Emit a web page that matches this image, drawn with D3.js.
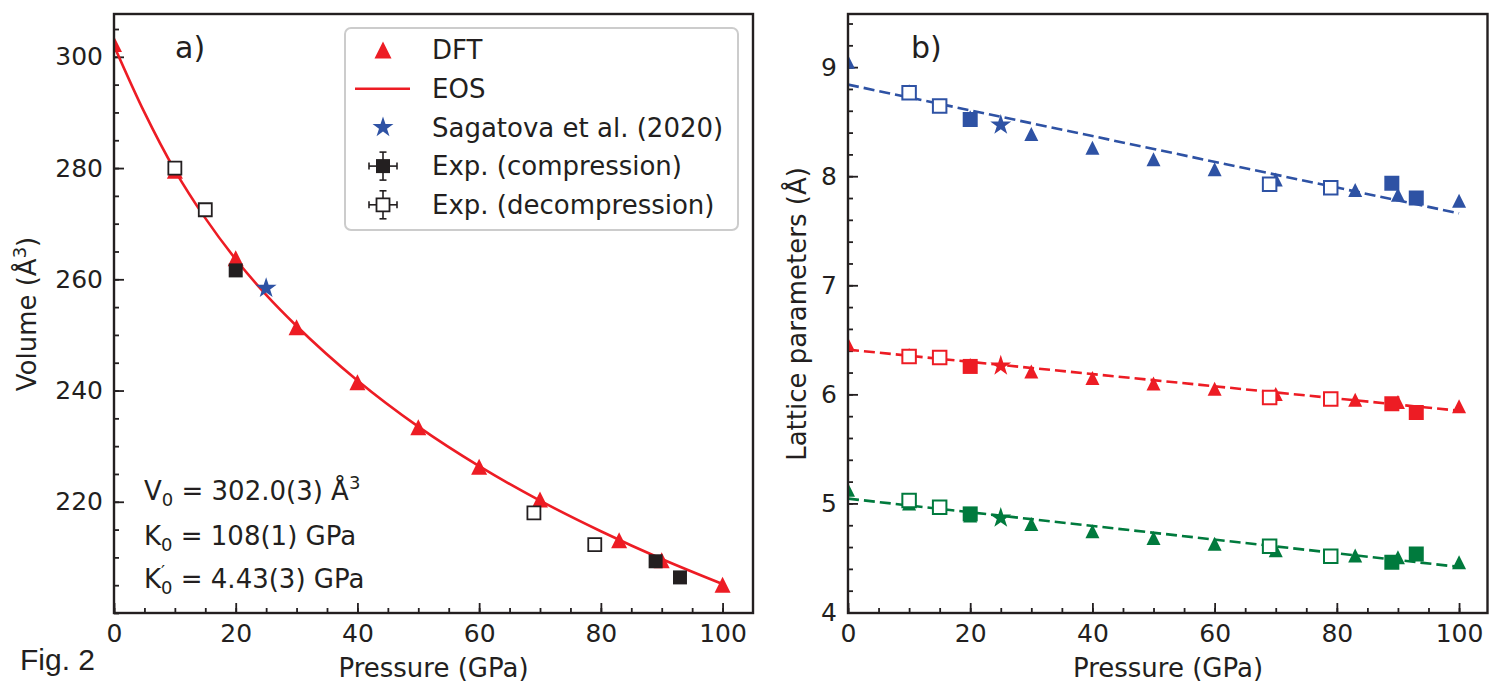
<!DOCTYPE html>
<html>
<head>
<meta charset="utf-8">
<script src="https://cdn.jsdelivr.net/npm/d3@7"></script>
<style>
  body { margin: 0; background: #fff; }
  text { font-family: "DejaVu Sans", sans-serif; fill: #231f20; white-space: pre; }
</style>
</head>
<body>
<script>
// ---------- data, panel a ----------
const pressDFT = [0, 10, 20, 30, 40, 50, 60, 70, 83, 90, 100];
const volDFT = [302.3, 279.5, 263.8, 251.4, 241.5, 233.4, 226.3, 220.4, 213.1, 209.5, 205.1];

const pressEOS = [0, 5, 10, 15, 20, 25, 30, 40, 50, 60, 70, 80, 90, 100];
const volEOS = [302.0, 290.0, 279.6, 271.0, 263.6, 257.2, 251.6, 241.8, 233.5, 226.4, 220.2, 214.7, 209.7, 205.2];

const pressComp = [20, 89, 93];
const volComp = [261.6, 209.3, 206.4];

const pressDecomp = [10, 15, 69, 79];
const volDecomp = [280.0, 272.5, 218.0, 212.3];

const pressStar = [25];
const volStar = [258.4];

// ---------- data, panel b ----------
const latA_DFT = [9.05, 8.78, 8.54, 8.386, 8.26, 8.155, 8.063, 7.97, 7.874, 7.83, 7.776];
const latB_DFT = [6.46, 6.36, 6.27, 6.21, 6.149, 6.10, 6.051, 6.003, 5.95, 5.93, 5.89];
const latC_DFT = [5.126, 5.00, 4.89, 4.812, 4.745, 4.684, 4.63, 4.57, 4.522, 4.506, 4.46];

const latA_Comp = [8.52, 7.935, 7.80];
const latB_Comp = [6.256, 5.914, 5.834];
const latC_Comp = [4.904, 4.46, 4.537];

const latA_Decomp = [8.765, 8.643, 7.926, 7.895];
const latB_Decomp = [6.347, 6.338, 5.972, 5.957];
const latC_Decomp = [5.026, 4.964, 4.607, 4.516];

const latA_Star = [8.47];
const latB_Star = [6.262];
const latC_Star = [4.867];

const pressFit = [0, 100];
const latA_Fit = [8.84, 7.66];
const latB_Fit = [6.41, 5.85];
const latC_Fit = [5.044, 4.418];

const xTicks = [0, 20, 40, 60, 80, 100];
const volTicks = [220, 240, 260, 280, 300];
const latTicks = [4, 5, 6, 7, 8, 9];

const legendLabels = ["DFT", "EOS", "Sagatova et al. (2020)", "Exp. (compression)", "Exp. (decompression)"];

// ---------- colours ----------
const RED = "#ed1c24", BLUE = "#2e52a4", GREEN = "#007a3d", INK = "#231f20";

const W = 1489, H = 684;
const svg = d3.select("body").append("svg").attr("width", W).attr("height", H);

// marker shapes
function triPath(s) { return `M0,${-s / 2}L${s / 2},${s / 2}L${-s / 2},${s / 2}Z`; }
function sqPath(s) { return `M${-s / 2},${-s / 2}H${s / 2}V${s / 2}H${-s / 2}Z`; }
function starPath(r) {
  const pts = [];
  for (let i = 0; i < 10; i++) {
    const rr = i % 2 === 0 ? r : r * 0.382;
    const a = -Math.PI / 2 + i * Math.PI / 5;
    pts.push([rr * Math.cos(a), rr * Math.sin(a)]);
  }
  return "M" + pts.map(p => p.join(",")).join("L") + "Z";
}

function zip(a, b) { return a.map((v, i) => [v, b[i]]); }

// ---------- panel builder ----------
function panel(id, x, y, yMajor, yMinorStep, left, right) {
  const g = svg.append("g");
  const top = 14, bottom = 613;

  g.append("clipPath").attr("id", "clip" + id)
    .append("rect").attr("x", left).attr("y", top).attr("width", right - left).attr("height", bottom - top);

  // minor ticks
  const yd = y.domain();
  const yMinor = d3.range(Math.ceil(yd[0] / yMinorStep) * yMinorStep, yd[1], yMinorStep);
  g.append("g").attr("transform", `translate(${left},0)`)
    .call(d3.axisLeft(y).tickValues(yMinor).tickSize(-5).tickFormat(""))
    .call(a => a.select(".domain").remove());
  g.append("g").attr("transform", `translate(0,${bottom})`)
    .call(d3.axisBottom(x).tickValues(d3.range(0, 105, 5)).tickSize(-5).tickFormat(""))
    .call(a => a.select(".domain").remove());

  // major ticks
  g.append("g").attr("transform", `translate(${left},0)`)
    .call(d3.axisLeft(y).tickValues(yMajor).tickSize(-10).tickPadding(11).tickFormat(d3.format("d")))
    .call(a => a.select(".domain").remove())
    .call(a => a.selectAll("text").style("font-size", "25px").style("font-family", "DejaVu Sans"));
  g.append("g").attr("transform", `translate(0,${bottom})`)
    .call(d3.axisBottom(x).tickValues(xTicks).tickSize(-10).tickPadding(11).tickFormat(d3.format("d")))
    .call(a => a.select(".domain").remove())
    .call(a => a.selectAll("text").style("font-size", "25px").style("font-family", "DejaVu Sans"));

  g.selectAll(".tick line").attr("stroke", INK).attr("stroke-width", 1.8);
  g.selectAll(".tick text").attr("fill", INK);

  const plot = g.append("g").attr("clip-path", `url(#clip${id})`);

  g.append("rect").attr("x", left).attr("y", top).attr("width", right - left).attr("height", bottom - top)
    .attr("fill", "none").attr("stroke", INK).attr("stroke-width", 2.4);

  return plot;
}

function drawMarks(plot, pts, path, fill, stroke, sw) {
  plot.selectAll(null).data(pts).enter().append("path")
    .attr("d", path)
    .attr("transform", d => `translate(${d[0]},${d[1]})`)
    .attr("fill", fill).attr("stroke", stroke).attr("stroke-width", sw || 0);
}

// ================= panel a =================
const xa = d3.scaleLinear().domain([0, 105]).range([114, 753]);
const ya = d3.scaleLinear().domain([200, 307.7]).range([613, 14]);
const pa = panel("a", xa, ya, volTicks, 5, 114, 753);

const scA = (px, vy) => zip(px, vy).map(d => [xa(d[0]), ya(d[1])]);

drawMarks(pa, scA(pressDFT, volDFT), triPath(16), RED);
pa.append("path").datum(zip(pressEOS, volEOS))
  .attr("d", d3.line().x(d => xa(d[0])).y(d => ya(d[1])).curve(d3.curveMonotoneX))
  .attr("fill", "none").attr("stroke", RED).attr("stroke-width", 2.6);
drawMarks(pa, scA(pressStar, volStar), starPath(11), BLUE);
drawMarks(pa, scA(pressComp, volComp), sqPath(14), INK);
drawMarks(pa, scA(pressDecomp, volDecomp), sqPath(13), "#fff", INK, 1.8);

svg.append("text").attr("x", 175).attr("y", 58).style("font-size", "30px").text("a)");

// legend
const leg = svg.append("g");
leg.append("rect").attr("x", 345).attr("y", 28).attr("width", 393).attr("height", 202).attr("rx", 6)
  .attr("fill", "#fff").attr("stroke", "#cccccc").attr("stroke-width", 2);
const legY = d3.range(5).map(i => 50 + i * 38.7);
const mx = 383;
legendLabels.forEach((t, i) => {
  leg.append("text").attr("x", 432).attr("y", legY[i]).attr("dy", "0.36em").style("font-size", "26px").text(t);
});
leg.append("path").attr("d", triPath(17)).attr("transform", `translate(${mx},${legY[0]})`).attr("fill", RED);
leg.append("line").attr("x1", 355).attr("x2", 410).attr("y1", legY[1]).attr("y2", legY[1])
  .attr("stroke", RED).attr("stroke-width", 2.6);
leg.append("path").attr("d", starPath(11)).attr("transform", `translate(${mx},${legY[2]})`).attr("fill", BLUE);
[3, 4].forEach(i => {
  const c = leg.append("g").attr("transform", `translate(${mx},${legY[i]})`)
    .attr("stroke", INK).attr("stroke-width", 1.6);
  c.append("line").attr("x1", -14).attr("x2", 14);
  c.append("line").attr("y1", -14).attr("y2", 14);
  c.append("line").attr("x1", -14).attr("x2", -14).attr("y1", -3.5).attr("y2", 3.5);
  c.append("line").attr("x1", 14).attr("x2", 14).attr("y1", -3.5).attr("y2", 3.5);
  c.append("line").attr("y1", -14).attr("y2", -14).attr("x1", -3.5).attr("x2", 3.5);
  c.append("line").attr("y1", 14).attr("y2", 14).attr("x1", -3.5).attr("x2", 3.5);
  c.append("path").attr("d", sqPath(i === 3 ? 14 : 13))
    .attr("fill", i === 3 ? INK : "#fff").attr("stroke", i === 3 ? "none" : INK).attr("stroke-width", 1.8);
});

// annotation lines with sub/superscripts, one text element each
const SUB = 18;
const probe = svg.append("text").style("font-size", SUB + "px").text("′");
const primeW = probe.node().getComputedTextLength();
probe.remove();

function annot(y, base, sub, rest, sup, prime) {
  const t = svg.append("text").attr("x", 144).attr("y", y).style("font-size", "26px");
  t.append("tspan").text(base);
  if (prime) {
    t.append("tspan").attr("dy", -10).style("font-size", SUB + "px").text("′");
    t.append("tspan").attr("dx", -primeW).attr("dy", 16).style("font-size", SUB + "px").text(sub);
  } else {
    t.append("tspan").attr("dy", 6).style("font-size", SUB + "px").text(sub);
  }
  t.append("tspan").attr("dy", -6).text(rest);
  if (sup) t.append("tspan").attr("dy", -11).style("font-size", SUB + "px").text(sup);
}
annot(500, "V", "0", " = 302.0(3) Å", "3", false);
annot(545, "K", "0", " = 108(1) GPa", null, false);
annot(588, "K", "0", " = 4.43(3) GPa", null, true);

// axis labels a
const yl = svg.append("text").attr("transform", "translate(36,314) rotate(-90)")
  .attr("text-anchor", "middle").style("font-size", "26px");
yl.append("tspan").text("Volume (Å");
yl.append("tspan").attr("dy", -10).style("font-size", "18px").text("3");
yl.append("tspan").attr("dy", 10).text(")");
svg.append("text").attr("x", 433.5).attr("y", 677).attr("text-anchor", "middle")
  .style("font-size", "26px").text("Pressure (GPa)");

svg.append("text").attr("x", 20).attr("y", 670)
  .style("font-family", "'Liberation Sans', Arial, sans-serif").style("font-size", "30px").text("Fig. 2");

// ================= panel b =================
const xb = d3.scaleLinear().domain([0, 105]).range([848, 1489.6]);
const yb = d3.scaleLinear().domain([4, 9.5]).range([612.5, 12.6]);
const pb = panel("b", xb, yb, latTicks, 0.2, 848, 1487.5);

const scB = (px, vy) => zip(px, vy).map(d => [xb(d[0]), yb(d[1])]);

const series = [
  { c: BLUE, dft: latA_DFT, comp: latA_Comp, dec: latA_Decomp, star: latA_Star, fit: latA_Fit },
  { c: RED, dft: latB_DFT, comp: latB_Comp, dec: latB_Decomp, star: latB_Star, fit: latB_Fit },
  { c: GREEN, dft: latC_DFT, comp: latC_Comp, dec: latC_Decomp, star: latC_Star, fit: latC_Fit }
];
series.forEach(s => {
  pb.append("path").datum(zip(pressFit, s.fit))
    .attr("d", d3.line().x(d => xb(d[0])).y(d => yb(d[1])))
    .attr("fill", "none").attr("stroke", s.c).attr("stroke-width", 2.6).attr("stroke-dasharray", "11,5");
  drawMarks(pb, scB(pressDFT, s.dft), triPath(14), s.c);
  drawMarks(pb, scB(pressStar, s.star), starPath(11), s.c);
  drawMarks(pb, scB(pressComp, s.comp), sqPath(15), s.c);
  drawMarks(pb, scB(pressDecomp, s.dec), sqPath(13.5), "#fff", s.c, 2);
});

svg.append("text").attr("x", 911).attr("y", 58).style("font-size", "30px").text("b)");

svg.append("text").attr("transform", "translate(806,314) rotate(-90)")
  .attr("text-anchor", "middle").style("font-size", "26px").text("Lattice parameters (Å)");
svg.append("text").attr("x", 1168).attr("y", 677).attr("text-anchor", "middle")
  .style("font-size", "26px").text("Pressure (GPa)");
</script>
</body>
</html>
